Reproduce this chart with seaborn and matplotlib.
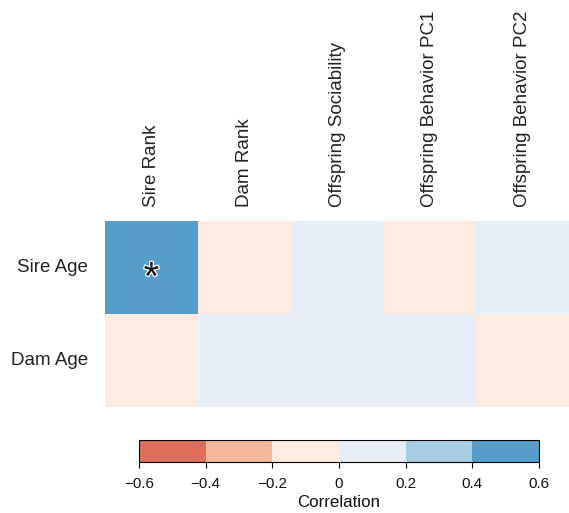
import numpy as np
import pandas as pd
import matplotlib
matplotlib.use("Agg")
import matplotlib.pyplot as plt
import matplotlib.patheffects as pe
from matplotlib.colors import ListedColormap, BoundaryNorm
import seaborn as sns

# Correlations between parental traits (rows) and rank / offspring traits (columns)
row_labels = ["Sire Age", "Dam Age"]
col_labels = ["Sire Rank", "Dam Rank", "Offspring Sociability",
              "Offspring Behavior PC1", "Offspring Behavior PC2"]
sire_age_r = [0.47, -0.12, 0.06, -0.09, 0.08]
dam_age_r = [-0.14, 0.07, 0.04, 0.11, -0.06]
# significance markers
sire_age_sig = ["*", "", "", "", ""]
dam_age_sig = ["", "", "", "", ""]

bin_edges = [-0.6, -0.4, -0.2, 0.0, 0.2, 0.4, 0.6]
bin_colors = ["#DF6F5A", "#F6B89A", "#FDEBE0", "#E7EEF5", "#A7CEE2", "#559EC9"]

corr = pd.DataFrame([sire_age_r, dam_age_r], index=row_labels, columns=col_labels)
sig = np.array([sire_age_sig, dam_age_sig])

sns.set_theme(style="white")
plt.rcParams["font.family"] = ["Liberation Sans", "DejaVu Sans"]

cmap = ListedColormap(bin_colors)
norm = BoundaryNorm(bin_edges, cmap.N)

fig = plt.figure(figsize=(5.69, 5.13), dpi=100)
W, H = 569, 513
ax = fig.add_axes([105 / W, 1 - 407 / H, (569 - 105) / W, (407 - 221) / H])
cax = fig.add_axes([139 / W, 1 - 462 / H, (539 - 139) / W, (462 - 440) / H])

sns.heatmap(corr, ax=ax, cbar_ax=cax, cmap=cmap, norm=norm,
            vmin=-0.6, vmax=0.6,
            annot=sig, fmt="",
            annot_kws={"fontsize": 29, "color": "#1a1a1a",
                       "path_effects": [pe.withStroke(linewidth=1.8, foreground="white")]},
            cbar_kws={"orientation": "horizontal", "ticks": bin_edges,
                      "label": "Correlation"})

# the asterisk glyph sits high in its box; nudge it to the cell centre
for t in ax.texts:
    x, y = t.get_position()
    t.set_position((x, y + 0.12))

ax.xaxis.tick_top()
ax.set_xticklabels(col_labels, rotation=90, fontsize=13.5, color="#222222")
ax.set_yticklabels(row_labels, rotation=0, fontsize=13.5, color="#222222")
ax.tick_params(axis="x", length=0, pad=10)
ax.tick_params(axis="y", length=0, pad=12)
ax.set_xlabel("")
ax.set_ylabel("")

cb = ax.collections[0].colorbar
cb.outline.set_visible(True)
cb.outline.set_edgecolor("black")
cb.outline.set_linewidth(0.8)
cb.set_ticks(bin_edges)
cb.set_ticklabels(["\u22120.6", "\u22120.4", "\u22120.2", "0", "0.2", "0.4", "0.6"])
cax.tick_params(axis="x", length=4.5, width=0.8, color="black", direction="out",
                labelsize=11, labelcolor="#111111", bottom=True, pad=6)
cax.set_xlabel("Correlation", fontsize=12.2, color="#111111", labelpad=3)

fig.savefig("out.png", dpi=100)
